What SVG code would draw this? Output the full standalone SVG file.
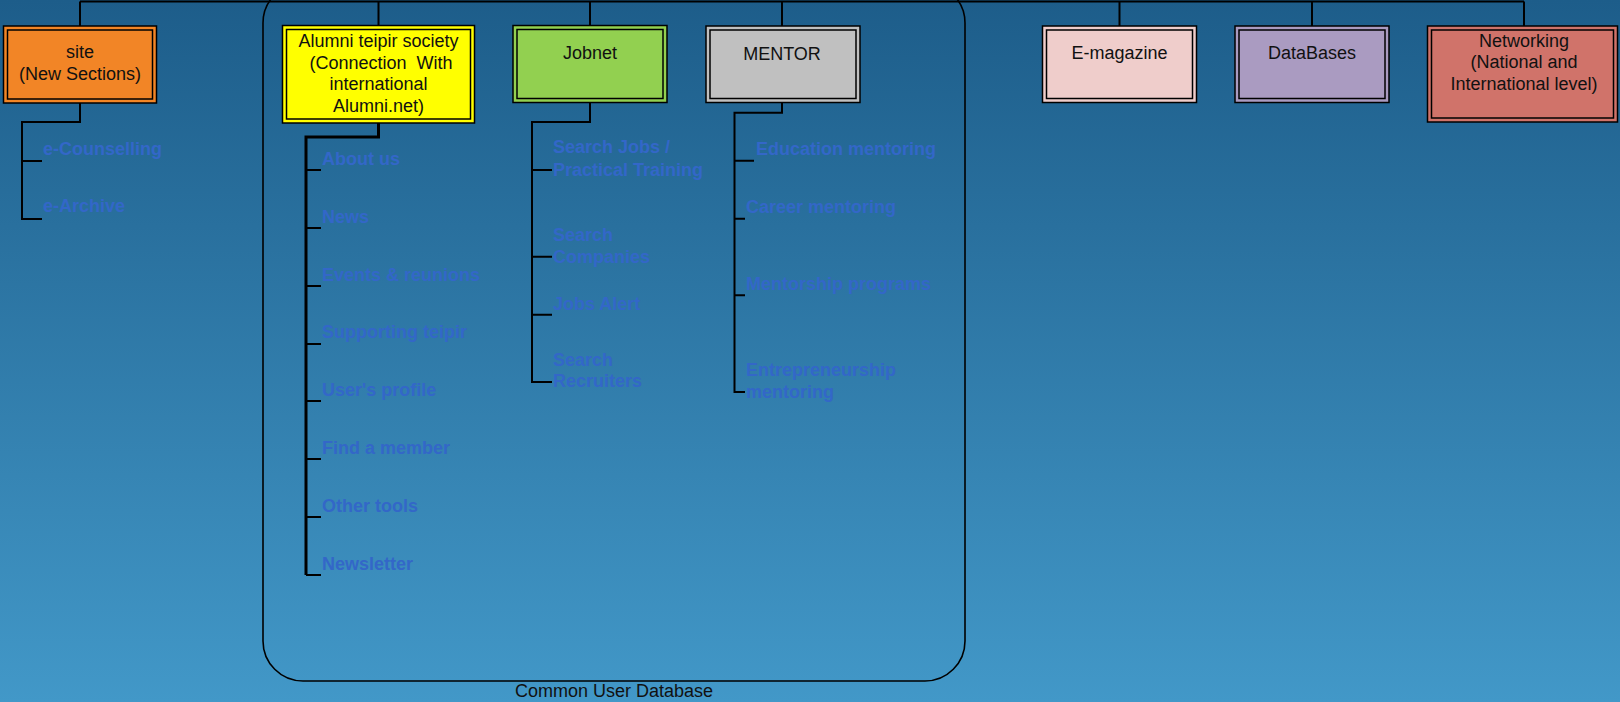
<svg xmlns="http://www.w3.org/2000/svg" width="1620" height="702" viewBox="0 0 1620 702">
  <defs>
    <linearGradient id="bg" x1="0" y1="0" x2="0" y2="1">
      <stop offset="0" stop-color="#1d5d8a"/>
      <stop offset="1" stop-color="#4298c8"/>
    </linearGradient>
  </defs>
  <style>
    .frame { stroke: #000; stroke-width: 1.5; }
    .inner { fill: none; stroke: #000; stroke-width: 1.5; }
    .box-text { font-family: "Liberation Sans", Arial, sans-serif; font-size: 18px; fill: #111; text-anchor: middle; }
    .item { font-family: "Liberation Sans", Arial, sans-serif; font-size: 18px; font-weight: bold; fill: #3367c8; }
    .wire { fill: none; stroke: #000; stroke-width: 2; }
    .wire-thick { fill: none; stroke: #000; stroke-width: 3; }
    .shell { fill: none; stroke: #000; stroke-width: 1.6; }
  </style>

  <rect width="1620" height="702" fill="url(#bg)"/>

  <!-- common user database enclosure -->
  <g id="common-db">
    <rect class="shell" x="263" y="-17" width="702" height="698" rx="40" ry="40"/>
    <text class="box-text" x="614" y="697">Common User Database</text>
  </g>

  <!-- connectors -->
  <g id="connectors">
    <path class="wire" d="M80,1.5 H1524"/>
    <path class="wire" d="M80,1.5 V26 M378.5,1.5 V25 M590,1.5 V26 M782,1.5 V26 M1119.5,1.5 V26 M1312,1.5 V26 M1524,1.5 V26"/>
    <!-- site branch -->
    <path class="wire" d="M80,103 V122 H22 V219 H42 M22,161 H42"/>
    <!-- alumni branch -->
    <path class="wire-thick" d="M378.5,123 V137 H306 V575"/>
    <path class="wire" d="M306,170 H321 M306,228 H321 M306,286 H321 M306,344 H321 M306,401 H321 M306,459 H321 M306,517 H321 M306,575 H321"/>
    <!-- jobnet branch -->
    <path class="wire" d="M590,103 V122 H532 V382 H552 M532,170 H552 M532,256.7 H552 M532,314.7 H552" stroke-width="2.5"/>
    <!-- mentor branch -->
    <path class="wire" d="M782,103 V112.7 H734.5 V392 H745 M734.5,160.7 H754 M734.5,218.7 H745 M734.5,295.3 H745"/>
  </g>

  <g id="site">
    <rect x="3.5" y="26" width="153" height="77" fill="#f28526" class="frame"/>
    <rect x="7.5" y="30" width="145" height="69" class="inner"/>
    <text class="box-text" x="80" y="58">site</text>
    <text class="box-text" x="80" y="80">(New Sections)</text>
    <text class="item" x="43" y="155">e-Counselling</text>
    <text class="item" x="43" y="212">e-Archive</text>
  </g>

  <g id="alumni">
    <rect x="282.5" y="25.5" width="192" height="97.5" fill="#ffff00" class="frame"/>
    <rect x="286.5" y="29.5" width="184" height="89.5" class="inner"/>
    <text class="box-text" x="378.5" y="47">Alumni teipir society</text>
    <text class="box-text" x="378.5" y="69">&#160;(Connection &#160;With</text>
    <text class="box-text" x="378.5" y="90">international</text>
    <text class="box-text" x="378.5" y="112">Alumni.net)</text>
    <text class="item" x="322" y="165">About us</text>
    <text class="item" x="322" y="223">News</text>
    <text class="item" x="322" y="281">Events &amp; reunions</text>
    <text class="item" x="322" y="338">Supporting teipir</text>
    <text class="item" x="322" y="396">User's profile</text>
    <text class="item" x="322" y="454">Find a member</text>
    <text class="item" x="322" y="512">Other tools</text>
    <text class="item" x="322" y="570">Newsletter</text>
  </g>

  <g id="jobnet">
    <rect x="513" y="25.5" width="154" height="77" fill="#92d050" class="frame"/>
    <rect x="517" y="29.5" width="146" height="69" class="inner"/>
    <text class="box-text" x="590" y="59">Jobnet</text>
    <text class="item" x="553" y="153">Search Jobs /</text>
    <text class="item" x="553" y="176">Practical Training</text>
    <text class="item" x="553" y="241">Search</text>
    <text class="item" x="553" y="263">Companies</text>
    <text class="item" x="553" y="310">Jobs Alert</text>
    <text class="item" x="553" y="366">Search</text>
    <text class="item" x="553" y="387">Recruiters</text>
  </g>

  <g id="mentor">
    <rect x="706" y="26" width="154" height="76.5" fill="#c0c0c0" class="frame"/>
    <rect x="710" y="30" width="146" height="68.5" class="inner"/>
    <text class="box-text" x="782" y="60">MENTOR</text>
    <text class="item" x="756" y="155">Education mentoring</text>
    <text class="item" x="746" y="213">Career mentoring</text>
    <text class="item" x="746" y="290">Mentorship programs</text>
    <text class="item" x="746" y="376">Entrepreneurship</text>
    <text class="item" x="746" y="398">mentoring</text>
  </g>

  <g id="emagazine">
    <rect x="1042.5" y="26" width="154" height="76.5" fill="#efcdcb" class="frame"/>
    <rect x="1046.5" y="30" width="146" height="68.5" class="inner"/>
    <text class="box-text" x="1119.5" y="59">E-magazine</text>
  </g>

  <g id="databases">
    <rect x="1235" y="26" width="154" height="76.5" fill="#aa9bc1" class="frame"/>
    <rect x="1239" y="30" width="146" height="68.5" class="inner"/>
    <text class="box-text" x="1312" y="59">DataBases</text>
  </g>

  <g id="networking">
    <rect x="1427.5" y="26" width="190" height="96" fill="#d0736a" class="frame"/>
    <rect x="1431.5" y="30" width="182" height="88" class="inner"/>
    <text class="box-text" x="1524" y="47">Networking</text>
    <text class="box-text" x="1524" y="68">(National and</text>
    <text class="box-text" x="1524" y="90">International level)</text>
  </g>
</svg>
